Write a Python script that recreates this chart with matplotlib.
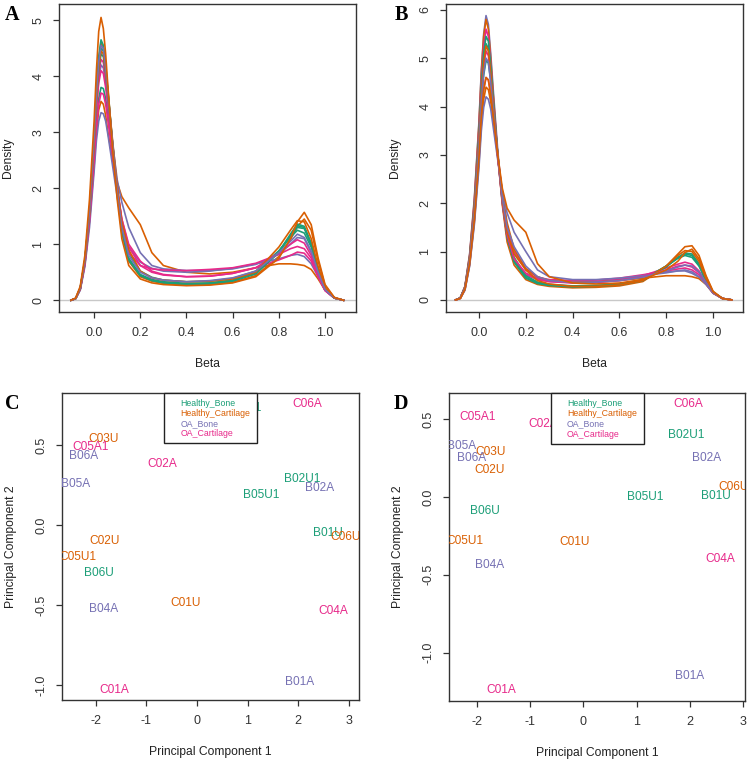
import matplotlib
matplotlib.use("Agg")
import matplotlib.pyplot as plt
from matplotlib.patches import Rectangle

plt.rcParams["font.family"] = ["Liberation Sans", "DejaVu Sans"]
plt.rcParams["axes.unicode_minus"] = False

COLORS = {"Healthy_Bone": "#1B9E77", "Healthy_Cartilage": "#D95F02",
          "OA_Bone": "#7570B3", "OA_Cartilage": "#E7298A"}
GROUPS = ["Healthy_Bone", "Healthy_Cartilage", "OA_Bone", "OA_Cartilage"]

# ---- density curves ----
BETA = [-0.10, -0.08, -0.06, -0.04, -0.02, 0.00, 0.01, 0.02, 0.03, 0.04, 0.05, 0.06,
        0.08, 0.10, 0.12, 0.15, 0.20, 0.25, 0.30, 0.40, 0.50, 0.60, 0.70, 0.80,
        0.85, 0.88, 0.91, 0.94, 0.97, 1.00, 1.04, 1.08]

A_GROUP = ["Healthy_Cartilage", "Healthy_Cartilage", "Healthy_Bone", "Healthy_Bone",
           "Healthy_Bone", "OA_Bone", "OA_Bone", "OA_Cartilage", "OA_Cartilage",
           "OA_Cartilage", "Healthy_Bone", "Healthy_Cartilage", "OA_Bone", "Healthy_Cartilage"]
A_DENS = [
    [0, 0.03, 0.20, 0.65, 1.40, 2.40, 3.00, 3.40, 3.55, 3.50, 3.30, 3.00, 2.50, 2.10, 1.85, 1.65, 1.35, 0.85, 0.62, 0.50, 0.47, 0.50, 0.58, 0.65, 0.65, 0.64, 0.62, 0.55, 0.38, 0.18, 0.04, 0],
    [0, 0.03, 0.22, 0.72, 1.60, 2.90, 3.70, 4.30, 4.60, 4.50, 4.15, 3.70, 2.75, 1.90, 1.20, 0.70, 0.42, 0.34, 0.30, 0.27, 0.28, 0.32, 0.44, 0.78, 1.08, 1.32, 1.45, 1.25, 0.70, 0.26, 0.05, 0],
    [0, 0.03, 0.22, 0.72, 1.60, 2.90, 3.75, 4.35, 4.65, 4.55, 4.20, 3.75, 2.80, 1.95, 1.25, 0.72, 0.44, 0.36, 0.32, 0.29, 0.30, 0.35, 0.48, 0.85, 1.15, 1.33, 1.30, 1.00, 0.55, 0.20, 0.04, 0],
    [0, 0.03, 0.21, 0.70, 1.55, 2.85, 3.65, 4.20, 4.50, 4.45, 4.10, 3.70, 2.80, 2.00, 1.30, 0.75, 0.46, 0.37, 0.33, 0.30, 0.31, 0.36, 0.50, 0.88, 1.15, 1.30, 1.28, 1.00, 0.55, 0.20, 0.04, 0],
    [0, 0.03, 0.20, 0.65, 1.45, 2.55, 3.20, 3.60, 3.80, 3.78, 3.60, 3.30, 2.65, 2.00, 1.40, 0.85, 0.52, 0.41, 0.36, 0.33, 0.34, 0.39, 0.52, 0.88, 1.12, 1.25, 1.20, 0.95, 0.52, 0.20, 0.04, 0],
    [0, 0.03, 0.20, 0.68, 1.50, 2.70, 3.45, 3.95, 4.20, 4.15, 3.90, 3.55, 2.80, 2.15, 1.75, 1.30, 0.85, 0.62, 0.56, 0.53, 0.53, 0.56, 0.64, 0.82, 1.00, 1.12, 1.10, 0.85, 0.48, 0.18, 0.04, 0],
    [0, 0.03, 0.18, 0.60, 1.30, 2.30, 2.85, 3.20, 3.35, 3.33, 3.20, 2.95, 2.40, 1.85, 1.35, 0.95, 0.68, 0.57, 0.52, 0.50, 0.52, 0.57, 0.65, 0.74, 0.80, 0.82, 0.78, 0.65, 0.42, 0.18, 0.04, 0],
    [0, 0.03, 0.21, 0.70, 1.55, 2.80, 3.55, 4.05, 4.30, 4.25, 3.95, 3.55, 2.70, 1.95, 1.35, 0.85, 0.62, 0.56, 0.54, 0.53, 0.55, 0.58, 0.66, 0.82, 0.92, 0.96, 0.92, 0.75, 0.45, 0.18, 0.04, 0],
    [0, 0.03, 0.20, 0.64, 1.42, 2.50, 3.10, 3.50, 3.70, 3.68, 3.50, 3.20, 2.60, 2.00, 1.45, 0.95, 0.62, 0.50, 0.45, 0.42, 0.43, 0.48, 0.58, 0.85, 1.00, 1.08, 1.02, 0.80, 0.46, 0.18, 0.04, 0],
    [0, 0.03, 0.20, 0.67, 1.50, 2.70, 3.40, 3.88, 4.10, 4.05, 3.80, 3.45, 2.70, 2.00, 1.45, 1.00, 0.70, 0.52, 0.46, 0.42, 0.43, 0.48, 0.58, 0.72, 0.80, 0.86, 0.84, 0.70, 0.42, 0.17, 0.04, 0],
    [0, 0.03, 0.21, 0.70, 1.55, 2.80, 3.60, 4.12, 4.40, 4.35, 4.05, 3.65, 2.78, 1.95, 1.25, 0.72, 0.44, 0.35, 0.31, 0.28, 0.29, 0.34, 0.47, 0.86, 1.18, 1.36, 1.32, 1.02, 0.56, 0.20, 0.04, 0],
    [0, 0.03, 0.21, 0.70, 1.55, 2.80, 3.60, 4.15, 4.45, 4.40, 4.10, 3.70, 2.85, 2.05, 1.40, 0.90, 0.52, 0.40, 0.36, 0.33, 0.34, 0.38, 0.50, 0.95, 1.25, 1.42, 1.40, 1.10, 0.60, 0.22, 0.04, 0],
    [0, 0.03, 0.22, 0.72, 1.60, 2.90, 3.70, 4.25, 4.55, 4.50, 4.15, 3.70, 2.80, 1.95, 1.30, 0.80, 0.50, 0.40, 0.36, 0.33, 0.35, 0.40, 0.52, 0.85, 1.05, 1.18, 1.12, 0.88, 0.50, 0.19, 0.04, 0],
    [0, 0.04, 0.25, 0.80, 1.80, 3.20, 4.10, 4.80, 5.05, 4.85, 4.40, 3.80, 2.70, 1.80, 1.10, 0.62, 0.38, 0.31, 0.28, 0.26, 0.27, 0.31, 0.42, 0.75, 1.10, 1.40, 1.57, 1.35, 0.75, 0.28, 0.05, 0],
]

B_GROUP = ["OA_Bone", "Healthy_Cartilage", "OA_Cartilage", "Healthy_Bone", "Healthy_Bone",
           "Healthy_Bone", "OA_Cartilage", "Healthy_Cartilage", "OA_Bone", "OA_Cartilage",
           "Healthy_Cartilage", "OA_Bone", "Healthy_Cartilage"]
B_DENS = [
    [0, 0.04, 0.28, 0.95, 2.10, 3.70, 4.75, 5.50, 5.88, 5.70, 5.10, 4.40, 3.10, 2.05, 1.30, 0.82, 0.55, 0.45, 0.40, 0.37, 0.38, 0.42, 0.50, 0.58, 0.60, 0.60, 0.55, 0.47, 0.33, 0.15, 0.03, 0],
    [0, 0.04, 0.28, 0.93, 2.05, 3.65, 4.70, 5.45, 5.80, 5.60, 5.00, 4.30, 3.00, 1.95, 1.20, 0.72, 0.42, 0.32, 0.28, 0.25, 0.26, 0.29, 0.38, 0.70, 0.95, 1.10, 1.12, 0.92, 0.50, 0.18, 0.03, 0],
    [0, 0.04, 0.27, 0.90, 2.00, 3.55, 4.55, 5.25, 5.60, 5.45, 4.90, 4.25, 3.00, 2.00, 1.30, 0.80, 0.52, 0.42, 0.38, 0.36, 0.38, 0.42, 0.50, 0.66, 0.74, 0.78, 0.74, 0.60, 0.38, 0.15, 0.03, 0],
    [0, 0.04, 0.26, 0.88, 1.95, 3.45, 4.45, 5.10, 5.45, 5.35, 4.85, 4.20, 3.00, 2.00, 1.30, 0.78, 0.45, 0.34, 0.30, 0.27, 0.28, 0.31, 0.40, 0.68, 0.88, 0.97, 0.95, 0.75, 0.42, 0.16, 0.03, 0],
    [0, 0.04, 0.26, 0.86, 1.90, 3.35, 4.30, 4.95, 5.30, 5.20, 4.75, 4.15, 3.00, 2.05, 1.35, 0.82, 0.47, 0.35, 0.31, 0.28, 0.29, 0.32, 0.41, 0.70, 0.88, 0.95, 0.92, 0.72, 0.40, 0.15, 0.03, 0],
    [0, 0.04, 0.25, 0.82, 1.80, 3.15, 4.05, 4.65, 4.95, 4.90, 4.55, 4.05, 3.00, 2.10, 1.40, 0.88, 0.50, 0.37, 0.32, 0.29, 0.30, 0.33, 0.42, 0.70, 0.86, 0.92, 0.88, 0.70, 0.40, 0.15, 0.03, 0],
    [0, 0.03, 0.22, 0.75, 1.65, 2.95, 3.80, 4.35, 4.60, 4.55, 4.25, 3.85, 3.00, 2.20, 1.50, 1.00, 0.62, 0.47, 0.42, 0.40, 0.41, 0.45, 0.52, 0.60, 0.64, 0.66, 0.62, 0.52, 0.34, 0.14, 0.03, 0],
    [0, 0.03, 0.21, 0.72, 1.60, 2.85, 3.65, 4.15, 4.40, 4.35, 4.10, 3.75, 2.95, 2.20, 1.60, 1.05, 0.65, 0.48, 0.40, 0.36, 0.37, 0.40, 0.45, 0.50, 0.50, 0.50, 0.48, 0.44, 0.32, 0.14, 0.03, 0],
    [0, 0.03, 0.20, 0.70, 1.55, 2.75, 3.50, 3.98, 4.20, 4.15, 3.95, 3.60, 2.90, 2.25, 1.80, 1.40, 1.00, 0.62, 0.48, 0.42, 0.42, 0.45, 0.50, 0.56, 0.60, 0.62, 0.58, 0.48, 0.32, 0.14, 0.03, 0],
    [0, 0.04, 0.25, 0.84, 1.85, 3.25, 4.20, 4.82, 5.15, 5.05, 4.60, 4.05, 2.95, 2.00, 1.35, 0.85, 0.55, 0.43, 0.38, 0.35, 0.36, 0.40, 0.48, 0.62, 0.70, 0.72, 0.68, 0.56, 0.36, 0.15, 0.03, 0],
    [0, 0.04, 0.26, 0.86, 1.90, 3.30, 4.25, 4.90, 5.25, 5.15, 4.70, 4.10, 3.00, 2.05, 1.40, 0.95, 0.62, 0.40, 0.33, 0.28, 0.28, 0.31, 0.40, 0.70, 0.92, 1.02, 1.00, 0.80, 0.44, 0.16, 0.03, 0],
    [0, 0.04, 0.25, 0.83, 1.82, 3.20, 4.10, 4.70, 5.00, 4.92, 4.50, 4.00, 3.00, 2.10, 1.50, 1.10, 0.70, 0.48, 0.40, 0.36, 0.37, 0.40, 0.47, 0.60, 0.68, 0.72, 0.70, 0.58, 0.36, 0.15, 0.03, 0],
    [0, 0.03, 0.22, 0.75, 1.65, 2.95, 3.80, 4.35, 4.60, 4.55, 4.25, 3.85, 3.00, 2.30, 1.90, 1.65, 1.40, 0.75, 0.48, 0.35, 0.33, 0.35, 0.42, 0.62, 0.80, 0.98, 1.05, 0.85, 0.48, 0.17, 0.03, 0],
]

# ---- PCA sample positions ----
C_NAMES = ["C03U", "C05A1", "B06A", "C02A", "B05A", "B02U1", "B02A", "B05U1", "B01U", "C06U",
           "C02U", "C05U1", "B06U", "C01U", "B04A", "C04A", "B01A", "C01A", "C06A", "B03U1"]
C_PC1 = [-1.84, -2.10, -2.24, -0.68, -2.41, 2.07, 2.43, 1.26, 2.58, 2.93,
         -1.82, -2.36, -1.94, -0.22, -1.84, 2.69, 2.03, -1.64, 2.17, 0.92]
C_PC2 = [0.54, 0.49, 0.43, 0.38, 0.256, 0.29, 0.23, 0.19, -0.05, -0.075,
         -0.10, -0.20, -0.30, -0.49, -0.525, -0.54, -0.98, -1.03, 0.756, 0.73]

D_NAMES = ["C06A", "B03U1", "C05A1", "C02A", "B05A", "C03U", "B06A", "C02U", "B02U1", "B02A",
           "C06U", "B01U", "B05U1", "B06U", "C05U1", "C01U", "B04A", "C04A", "B01A", "C01A"]
D_PC1 = [1.97, 0.82, -2.00, -0.75, -2.29, -1.74, -2.11, -1.76, 1.94, 2.32,
         2.82, 2.50, 1.16, -1.85, -2.24, -0.17, -1.76, 2.57, 2.00, -1.55]
D_PC2 = [0.594, 0.57, 0.51, 0.466, 0.33, 0.29, 0.25, 0.17, 0.40, 0.25,
         0.066, 0.008, 0.002, -0.09, -0.28, -0.29, -0.44, -0.40, -1.15, -1.24]


def group_of(name):
    bone = name.startswith("B")
    healthy = "U" in name
    if healthy:
        return "Healthy_Bone" if bone else "Healthy_Cartilage"
    return "OA_Bone" if bone else "OA_Cartilage"


W, H = 751, 762
fig = plt.figure(figsize=(W / 100, H / 100), dpi=100)


def px_axes(l, t, r, b):
    return fig.add_axes([l / W, 1 - b / H, (r - l) / W, (b - t) / H])


def style(ax):
    for s in ax.spines.values():
        s.set_color("#333333")
        s.set_linewidth(1.0)
    ax.tick_params(direction="out", length=4.5, width=0.9, color="#333333",
                   labelsize=9, labelcolor="#333333", pad=6)
    ax.tick_params(axis="y", labelrotation=90)
    for lb in ax.get_yticklabels():
        lb.set_va("center")


def density_panel(ax, dens, groups, xlim, ylim, yticks):
    ax.axhline(0, color="#c8c8c8", lw=1.0, zorder=1)
    for ys, g in zip(dens, groups):
        ax.plot(BETA, ys, color=COLORS[g], lw=1.2, zorder=2)
    ax.set_xlim(*xlim)
    ax.set_ylim(*ylim)
    ax.set_xticks([0.0, 0.2, 0.4, 0.6, 0.8, 1.0])
    ax.set_xticklabels(["0.0", "0.2", "0.4", "0.6", "0.8", "1.0"])
    ax.set_yticks(yticks)
    ax.set_xlabel("Beta", fontsize=8.7, color="#222222", labelpad=14)
    ax.set_ylabel("Density", fontsize=8.7, color="#222222", labelpad=13)
    style(ax)


def pca_panel(ax, names, pc1, pc2, xlim, ylim):
    for n, x, y in zip(names, pc1, pc2):
        ax.text(x, y, n, color=COLORS[group_of(n)], fontsize=8.6,
                ha="center", va="center", clip_on=True)
    ax.set_xlim(*xlim)
    ax.set_ylim(*ylim)
    ax.set_xticks([-2, -1, 0, 1, 2, 3])
    ax.set_yticks([-1.0, -0.5, 0.0, 0.5])
    ax.set_yticklabels(["-1.0", "-0.5", "0.0", "0.5"])
    ax.set_xlabel("Principal Component 1", fontsize=8.7, color="#222222", labelpad=14)
    ax.set_ylabel("Principal Component 2", fontsize=8.7, color="#222222", labelpad=13)
    style(ax)
    # legend box at top centre
    ax.add_patch(Rectangle((0.344, 0.836), 0.314, 0.164, transform=ax.transAxes,
                           facecolor="white", edgecolor="#222222", lw=1.0,
                           zorder=5, clip_on=False))
    for i, g in enumerate(GROUPS):
        ax.text(0.398, 0.967 - i * 0.0335, g, transform=ax.transAxes, color=COLORS[g],
                fontsize=6.3, ha="left", va="center", zorder=6)


axA = px_axes(59, 4, 356, 312)
density_panel(axA, A_DENS, A_GROUP, (-0.152, 1.134), (-0.21, 5.29), [0, 1, 2, 3, 4, 5])
axB = px_axes(446, 4, 743, 312)
density_panel(axB, B_DENS, B_GROUP, (-0.141, 1.128), (-0.25, 6.12), [0, 1, 2, 3, 4, 5, 6])
axC = px_axes(62, 393, 359, 700)
pca_panel(axC, C_NAMES, C_PC1, C_PC2, (-2.67, 3.2), (-1.094, 0.825))
axD = px_axes(449, 393, 745, 701)
pca_panel(axD, D_NAMES, D_PC1, D_PC2, (-2.53, 3.04), (-1.31, 0.667))

for letter, x, y in [("A", 5, 20), ("B", 395, 20), ("C", 5, 409), ("D", 394, 409)]:
    fig.text(x / W, 1 - y / H, letter, fontsize=14.5, fontweight="bold",
             family=["Liberation Serif", "DejaVu Serif"], va="baseline", ha="left")

fig.savefig("out.png", dpi=100, facecolor="white")
